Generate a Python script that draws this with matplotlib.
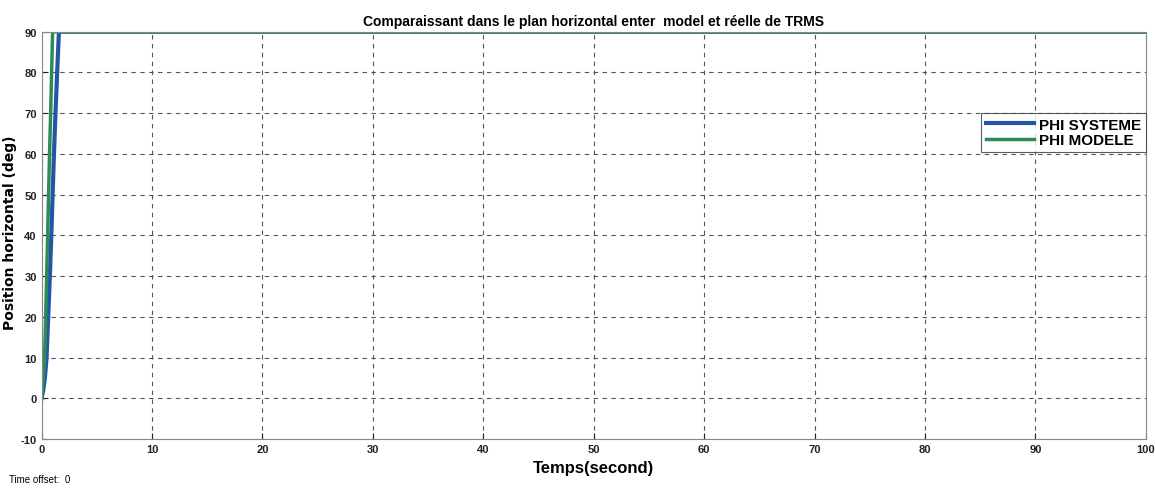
import matplotlib
matplotlib.use("Agg")
import matplotlib.pyplot as plt
import numpy as np

# data (time in s, position in deg)
t_systeme = [0, 0.15, 0.3, 0.45, 0.6, 0.75, 0.88, 1.0, 1.12, 1.26, 1.41, 1.57, 100]
phi_systeme = [0, 2, 5, 10, 20, 30, 40, 50, 60, 70, 80, 90, 90]
t_modele = [0, 0.12, 0.27, 0.37, 0.46, 0.55, 0.63, 0.72, 0.82, 0.91, 1.0, 100]
phi_modele = [0, 4, 10, 20, 30, 40, 50, 60, 70, 80, 90, 90]

xticks = np.arange(0, 101, 10)
yticks = np.arange(-10, 91, 10)

plt.rcParams['font.family'] = ['Liberation Sans', 'DejaVu Sans']
plt.rcParams['axes.unicode_minus'] = False

fig = plt.figure(figsize=(11.55, 4.89), dpi=100)
ax = fig.add_axes([0.036, 0.100, 0.956, 0.833])

ax.plot(t_systeme, phi_systeme, color='#2456a8', lw=3, label='PHI SYSTEME')
ax.plot(t_modele, phi_modele, color='#2e8b57', lw=2.5, label='PHI MODELE')

ax.set_xlim(0, 100)
ax.set_ylim(-10, 90)
ax.set_xticks(xticks)
ax.set_yticks(yticks)
ax.tick_params(direction='in', length=4, labelsize=8, colors='#222222')
for lab in ax.get_xticklabels() + ax.get_yticklabels():
    lab.set_fontweight('bold')
ax.grid(True, color='#555555', linestyle=(0, (4, 4)), linewidth=0.8)
for s in ax.spines.values():
    s.set_color('#888888')

ax.set_title('Comparaissant dans le plan horizontal enter  model et réelle de TRMS',
             fontsize=10, fontweight='bold', pad=5)
ax.set_xlabel('Temps(second)', fontsize=12, fontweight='bold', labelpad=4)
ax.set_ylabel('Position horizontal (deg)', fontsize=10,
              fontweight='bold', family=['DejaVu Sans'])
ax.yaxis.set_label_coords(-0.022, 0.51)

leg = ax.legend(loc='upper right', bbox_to_anchor=(1.0, 0.80), borderaxespad=0,
                prop={'weight': 'bold', 'size': 11}, frameon=True, fancybox=False,
                handlelength=3.2, handletextpad=0.3, borderpad=0.3, labelspacing=0.1)
leg.get_frame().set_edgecolor('#333333')
leg.get_frame().set_linewidth(0.8)

fig.text(0.008, 0.012, 'Time offset:  0', fontsize=7)

fig.savefig('out.png', dpi=100)
